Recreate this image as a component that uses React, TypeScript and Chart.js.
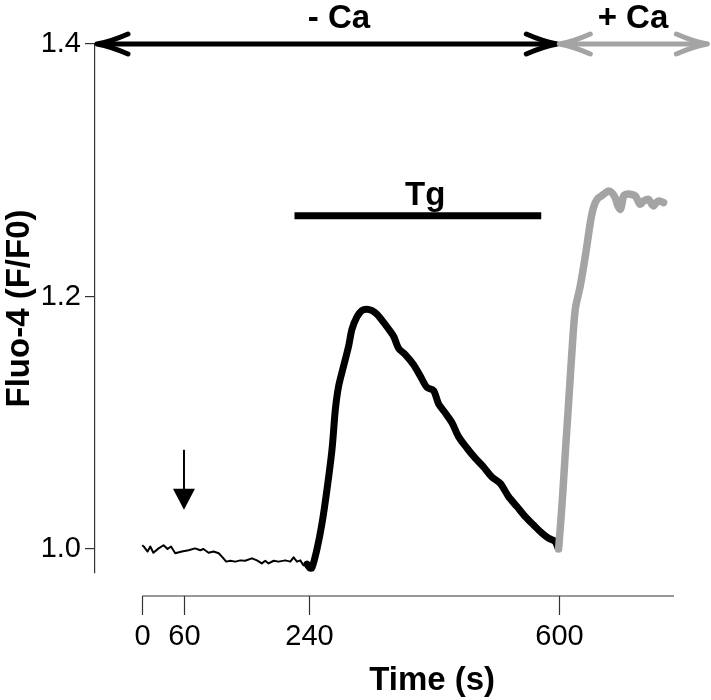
import React, { useEffect, useRef } from "react";
import { Chart, registerables } from "chart.js";

Chart.register(...registerables);

// ---- data (time in s, Fluo-4 F/F0) ----
const baselineTime = [0, 2, 7.7, 11.5, 16, 23.5, 30.7, 36.4, 41.3, 47.5, 57, 66.6, 76, 83.5, 88, 95.4, 102.6, 110, 114.6, 120.8, 126.6, 133.8, 141, 148, 157.8, 165, 172, 177, 181.7, 189, 196, 205.8, 213, 217.7, 222.6, 227.3, 232, 237];
const baselineFluo = [1.003, 1.002, 0.998, 1.002, 0.997, 1.0005, 1.003, 1.0, 1.002, 0.9966, 0.998, 0.999, 1.0005, 0.999, 1.0, 0.997, 0.998, 0.9966, 0.994, 0.99, 0.9907, 0.99, 0.991, 0.9907, 0.9926, 0.991, 0.9886, 0.9907, 0.9886, 0.9907, 0.99, 0.991, 0.99, 0.9934, 0.99, 0.991, 0.987, 0.988];

const tgTime = [237, 241, 244, 251, 258.5, 265.7, 273, 277.7, 282.5, 289.7, 297, 301.7, 309, 316, 323, 330, 337.7, 345, 352, 361.6, 368.8, 378.4, 390.4, 400, 409.6, 419, 426.3, 436, 445.6, 455, 467, 479, 491, 503, 515, 527, 539, 551, 563, 575, 584.6, 594, 598];
const tgFluo = [0.988, 0.985, 0.985, 0.999, 1.02, 1.047, 1.079, 1.11, 1.129, 1.145, 1.161, 1.174, 1.184, 1.189, 1.19, 1.189, 1.186, 1.181, 1.176, 1.1685, 1.159, 1.154, 1.146, 1.137, 1.128, 1.1255, 1.115, 1.1077, 1.1, 1.089, 1.08, 1.072, 1.065, 1.057, 1.052, 1.0415, 1.0336, 1.0256, 1.019, 1.0125, 1.0085, 1.006, 1.001];

const caTime = [599, 604, 608.6, 613.4, 618, 623, 630, 637.4, 644.6, 648, 651.8, 656, 661.4, 666, 671, 676, 680.6, 684, 687.8, 690, 692.5, 697, 702, 709.4, 713, 716.5, 721.3, 728.5, 732, 735.7, 739, 743, 750];
const caFluo = [1.0, 1.036, 1.076, 1.116, 1.155, 1.19, 1.208, 1.232, 1.2585, 1.268, 1.2744, 1.278, 1.28, 1.282, 1.2836, 1.282, 1.278, 1.272, 1.269, 1.273, 1.2796, 1.281, 1.281, 1.2796, 1.276, 1.273, 1.2757, 1.277, 1.274, 1.2717, 1.274, 1.2757, 1.2744];

const xTickValues = [0, 60, 240, 600];
const xTickLabels = ["0", "60", "240", "600"];
const yTickValues = [1.0, 1.2, 1.4];
const yTickLabels = ["1.0", "1.2", "1.4"];

const xTitle = "Time (s)";
const yTitle = "Fluo-4 (F/F0)";
const minusCaLabel = "- Ca";
const plusCaLabel = "+ Ca";
const tgLabel = "Tg";

const xMin = -68;
const xMax = 765;
const xAxisEnd = 765;
const yMin = 0.981;
const yMax = 1.4;

const minusCaRange = [xMin, 600];
const plusCaRange = [600, 813];
const tgRange = [219, 574];
const tgLevel = 1.264;
const caArrowLevel = 1.4;
const additionTime = 60;
const additionArrowTop = 1.0786;
const additionArrowTip = 1.031;
const minusCaLabelTime = 283;
const plusCaLabelTime = 706;
const tgLabelTime = 407;
const xTitleTime = 417;

const FONT = "'Liberation Sans', Arial, Helvetica, sans-serif";
const GRAY = "#a4a4a4";
const AXIS = "#333333";
const TICK_SIZE = 29;

function chevronHead(ctx: CanvasRenderingContext2D, tipX: number, y: number, dir: number) {
  const L = 31;
  const H = 10;
  ctx.beginPath();
  ctx.moveTo(tipX + dir * L, y - H);
  ctx.quadraticCurveTo(tipX + dir * L * 0.45, y - H * 0.25, tipX, y);
  ctx.quadraticCurveTo(tipX + dir * L * 0.45, y + H * 0.25, tipX + dir * L, y + H);
  ctx.stroke();
}

function doubleArrow(ctx: CanvasRenderingContext2D, x1: number, x2: number, y: number, color: string) {
  ctx.save();
  ctx.strokeStyle = color;
  ctx.lineWidth = 5;
  ctx.lineCap = "round";
  ctx.lineJoin = "round";
  ctx.beginPath();
  ctx.moveTo(x1 + 3, y);
  ctx.lineTo(x2 - 3, y);
  ctx.stroke();
  chevronHead(ctx, x1, y, 1);
  chevronHead(ctx, x2, y, -1);
  ctx.restore();
}

const decorations = {
  id: "decorations",
  afterDraw(chart: any) {
    const ctx: CanvasRenderingContext2D = chart.ctx;
    const xs = chart.scales.x;
    const ys = chart.scales.y;
    const area = chart.chartArea;
    ctx.save();

    // x axis (offset below the plot)
    const axisY = area.bottom + 23;
    ctx.strokeStyle = AXIS;
    ctx.lineWidth = 1.2;
    ctx.beginPath();
    ctx.moveTo(xs.getPixelForValue(0), axisY);
    ctx.lineTo(xs.getPixelForValue(xAxisEnd), axisY);
    ctx.stroke();
    ctx.fillStyle = "#000";
    ctx.font = `${TICK_SIZE}px ${FONT}`;
    ctx.textAlign = "center";
    ctx.textBaseline = "alphabetic";
    xTickValues.forEach((v, i) => {
      const px = Math.round(xs.getPixelForValue(v)) + 0.5;
      ctx.beginPath();
      ctx.moveTo(px, axisY);
      ctx.lineTo(px, axisY + 19);
      ctx.stroke();
      ctx.fillText(xTickLabels[i], px, axisY + 49);
    });
    ctx.font = `bold 33px ${FONT}`;
    ctx.fillText(xTitle, xs.getPixelForValue(xTitleTime), axisY + 94);

    // -Ca / +Ca arrows
    const arrowY = ys.getPixelForValue(caArrowLevel);
    doubleArrow(ctx, xs.getPixelForValue(minusCaRange[0]) + 2, xs.getPixelForValue(minusCaRange[1]) - 2, arrowY, "#000");
    doubleArrow(ctx, xs.getPixelForValue(plusCaRange[0]), xs.getPixelForValue(plusCaRange[1]), arrowY, GRAY);
    ctx.fillStyle = "#000";
    ctx.font = `bold 33px ${FONT}`;
    ctx.fillText(minusCaLabel, xs.getPixelForValue(minusCaLabelTime), arrowY - 16);
    ctx.fillText(plusCaLabel, xs.getPixelForValue(plusCaLabelTime), arrowY - 16);

    // Tg bar
    const tgY = ys.getPixelForValue(tgLevel);
    ctx.strokeStyle = "#000";
    ctx.lineWidth = 7;
    ctx.lineCap = "butt";
    ctx.beginPath();
    ctx.moveTo(xs.getPixelForValue(tgRange[0]), tgY);
    ctx.lineTo(xs.getPixelForValue(tgRange[1]), tgY);
    ctx.stroke();
    ctx.fillStyle = "#000";
    ctx.fillText(tgLabel, xs.getPixelForValue(tgLabelTime), tgY - 11);

    // addition arrow
    const ax = xs.getPixelForValue(additionTime);
    const aTop = ys.getPixelForValue(additionArrowTop);
    const aTip = ys.getPixelForValue(additionArrowTip);
    ctx.lineWidth = 2;
    ctx.beginPath();
    ctx.moveTo(ax, aTop);
    ctx.lineTo(ax, aTip - 18);
    ctx.stroke();
    ctx.beginPath();
    ctx.moveTo(ax - 11, aTip - 21);
    ctx.lineTo(ax + 11, aTip - 21);
    ctx.lineTo(ax, aTip);
    ctx.closePath();
    ctx.fill();

    ctx.restore();
  },
};

export default function App() {
  const canvasRef = useRef<HTMLCanvasElement | null>(null);

  useEffect(() => {
    if (!canvasRef.current) return;
    const toPts = (t: number[], f: number[]) => t.map((x, i) => ({ x, y: f[i] }));
    const chart = new Chart(canvasRef.current, {
      type: "line",
      data: {
        datasets: [
          {
            label: "+Ca",
            data: toPts(caTime, caFluo),
            borderColor: GRAY,
            borderWidth: 7.5,
            pointRadius: 0,
            tension: 0.3,
            borderCapStyle: "round",
            borderJoinStyle: "round",
            fill: false,
          },
          {
            label: "Tg",
            data: toPts(tgTime, tgFluo),
            borderColor: "#000",
            borderWidth: 7,
            pointRadius: 0,
            tension: 0.3,
            borderCapStyle: "round",
            borderJoinStyle: "round",
            fill: false,
          },
          {
            label: "baseline",
            data: toPts(baselineTime, baselineFluo),
            borderColor: "#000",
            borderWidth: 2,
            pointRadius: 0,
            tension: 0,
            borderJoinStyle: "round",
            fill: false,
          },
        ],
      },
      options: {
        animation: false,
        responsive: false,
        events: [],
        layout: { padding: { left: 0, top: 44, right: 37, bottom: 127 } },
        plugins: { legend: { display: false }, tooltip: { enabled: false }, title: { display: false } },
        scales: {
          x: { type: "linear", min: xMin, max: xMax, display: false },
          y: {
            type: "linear",
            min: yMin,
            max: yMax,
            afterFit: (s: any) => {
              s.width = 95;
            },
            afterBuildTicks: (s: any) => {
              s.ticks = yTickValues.map((v) => ({ value: v }));
            },
            grid: { display: true, drawOnChartArea: false, drawTicks: true, tickLength: 10, color: AXIS, lineWidth: 1.2 },
            border: { display: true, color: AXIS, width: 1.2 },
            ticks: {
              padding: 4,
              color: "#000",
              font: { size: TICK_SIZE, family: FONT },
              callback: (v: any) => {
                const i = yTickValues.findIndex((t) => Math.abs(t - Number(v)) < 1e-9);
                return i >= 0 ? yTickLabels[i] : "";
              },
            },
            title: {
              display: true,
              text: yTitle,
              color: "#000",
              padding: { top: 0, bottom: 0 },
              font: { size: 33, weight: "bold", family: FONT },
            },
          },
        },
      },
      plugins: [decorations],
    } as any);
    return () => chart.destroy();
  }, []);

  return (
    <div style={{ position: "fixed", left: 0, top: 0, width: 711, height: 700, background: "#fff" }}>
      <canvas ref={canvasRef} width={711} height={700} style={{ display: "block" }} />
    </div>
  );
}
